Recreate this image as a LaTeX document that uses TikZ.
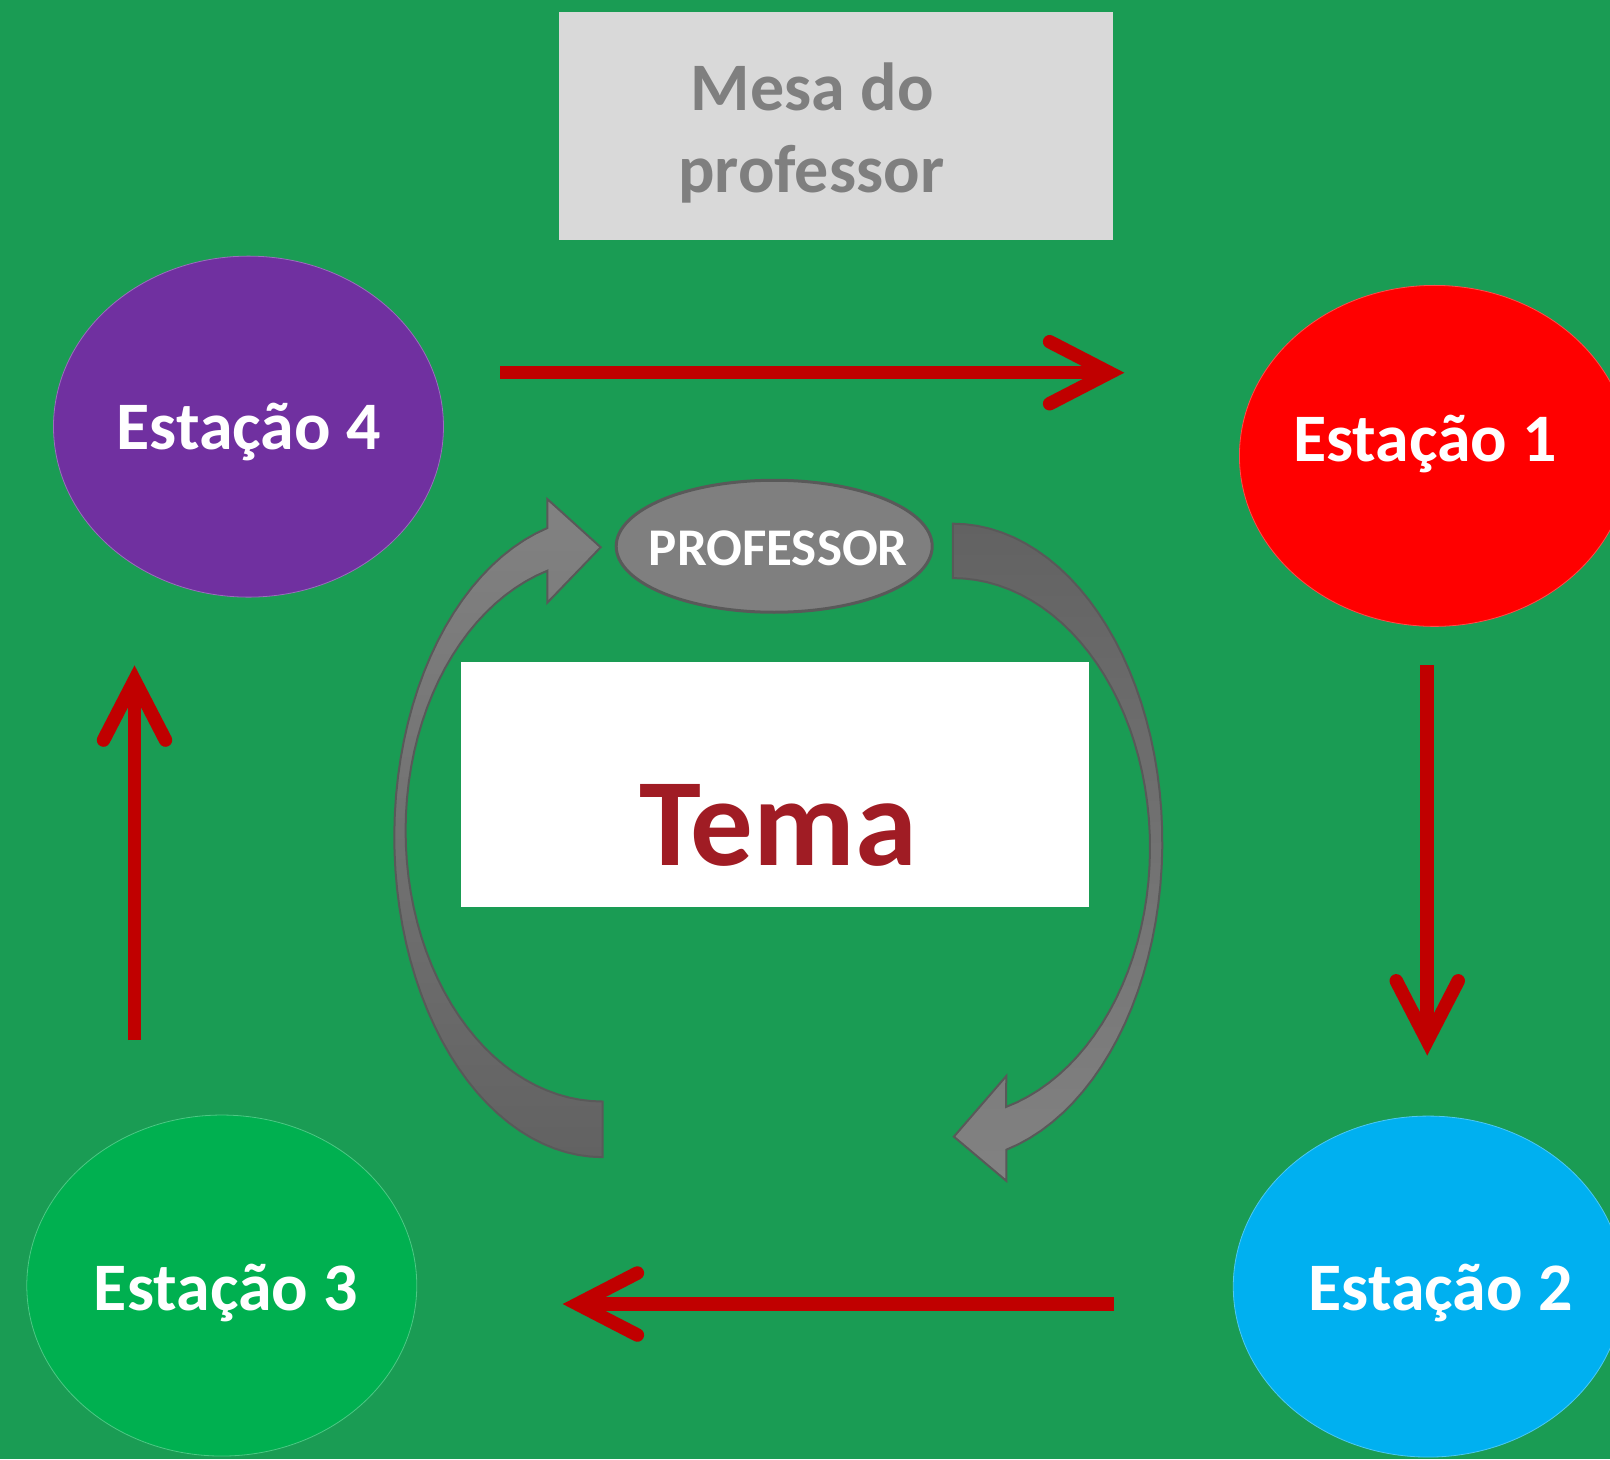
\documentclass[tikz,border=0pt]{standalone}
\usepackage{fontspec}
\setmainfont{Carlito}
\usetikzlibrary{shapes.geometric,arrows.meta}
\definecolor{bg}{RGB}{26,156,84}
\definecolor{purp}{RGB}{112,48,160}
\definecolor{redst}{RGB}{255,0,0}
\definecolor{bluest}{RGB}{0,176,240}
\definecolor{greenst}{RGB}{0,176,80}
\definecolor{arrred}{RGB}{192,0,0}
\definecolor{temared}{RGB}{160,28,36}
\definecolor{mesagray}{RGB}{217,217,217}
\definecolor{txtgray}{RGB}{127,127,127}
\definecolor{profgray}{RGB}{127,127,127}
\definecolor{darkline}{RGB}{89,89,89}
\definecolor{arrlight}{RGB}{130,130,130}
\definecolor{arrdark}{RGB}{98,98,98}
\begin{document}
\begin{tikzpicture}[x=1.0268pt,y=-1.0268pt,
  station/.style={ellipse, minimum width=390pt, minimum height=341pt, inner sep=0pt,
    draw=#1!70!white, line width=0.8pt, fill=#1},
  stlabel/.style={anchor=base, text=white, font=\fontsize{68}{80}\selectfont\bfseries, inner sep=0pt},
  mesabox/.style={rectangle, fill=mesagray, minimum width=554pt, minimum height=228pt, inner sep=0pt},
  mesatext/.style={anchor=base, text=txtgray, font=\fontsize{68}{80}\selectfont\bfseries, inner sep=0pt},
  flow/.style={draw=arrred, line width=13.5pt,
    -{Straight Barb[length=60pt, width=62pt, line cap=round, line join=miter]}},
  curved/.style={draw=darkline, line width=2pt, line join=miter},
  profnode/.style={ellipse, fill=profgray, draw=darkline, line width=3pt, minimum width=316pt,
    minimum height=132pt, inner sep=0pt},
  proftext/.style={anchor=base, text=white, inner sep=0pt, font=\fontsize{53}{60}\selectfont\bfseries},
  temabox/.style={rectangle, fill=white, minimum width=628pt, minimum height=245pt, inner sep=0pt},
  tematext/.style={anchor=base, text=temared, font=\fontsize{125}{140}\selectfont\bfseries, inner sep=0pt}
]
\useasboundingbox (0,0) rectangle (1568,1421);
\clip (0,0) rectangle (1568,1421);
\fill[bg] (0,0) rectangle (1568,1421);

% teacher's desk
\node[mesabox] (mesa) at (814,123) {};
\node[mesatext] (mesa1) at (791,108) {Mesa do};
\node[mesatext] (mesa2) at (790,187) {professor};

% stations
\node[station=purp] (e4) at (242,415.5) {};
\node[station=redst] (e1) at (1397,444) {};
\node[station=bluest] (e2) at (1391,1253) {};
\node[station=greenst] (e3) at (216,1252) {};
\node[stlabel] (l4) at (242,438) {Estação 4};
\node[stlabel] (l1) at (1388,449) {Estação 1};
\node[stlabel] (l2) at (1403,1276) {Estação 2};
\node[stlabel] (l3) at (220,1276) {Estação 3};

% rotation arrows
\coordinate (a1s) at (487,363);  \coordinate (a1e) at (1095,363);
\coordinate (a2s) at (1390,648); \coordinate (a2e) at (1390,1028);
\coordinate (a3s) at (1085,1270); \coordinate (a3e) at (548,1270);
\coordinate (a4s) at (131,1013); \coordinate (a4e) at (131,648);
\draw[flow] (a1s) -- (a1e);
\draw[flow] (a2s) -- (a2e);
\draw[flow] (a3s) -- (a3e);
\draw[flow] (a4s) -- (a4e);

% curved grey arrows
\path[curved, top color=arrlight, bottom color=arrdark]
  plot[domain=90:254.6, samples=50, variable=\t] ({587+203*cos(\t)},{815+312*sin(\t)})
  -- (533,486) -- (585,533) -- (533,587)
  -- plot[domain=253.7:90, samples=50, variable=\t] ({587+192*cos(\t)},{809+263.8*sin(\t)})
  -- cycle;
\path[curved, top color=arrdark, bottom color=arrlight]
  plot[domain=-90:75.2, samples=50, variable=\t] ({928+204*cos(\t)},{820+310*sin(\t)})
  -- (980,1150) -- (929,1107) -- (980,1048)
  -- plot[domain=74.3:-90, samples=50, variable=\t] ({928+192*cos(\t)},{825.4+262.4*sin(\t)})
  -- cycle;

% teacher
\node[profnode] (prof) at (754,532) {};
\node[proftext] (proft) at (758,551) {PROFESSOR};

% theme
\node[temabox] (tema) at (755,764.5) {};
\node[tematext] (temat) at (758,843) {Tema};
\end{tikzpicture}
\end{document}
